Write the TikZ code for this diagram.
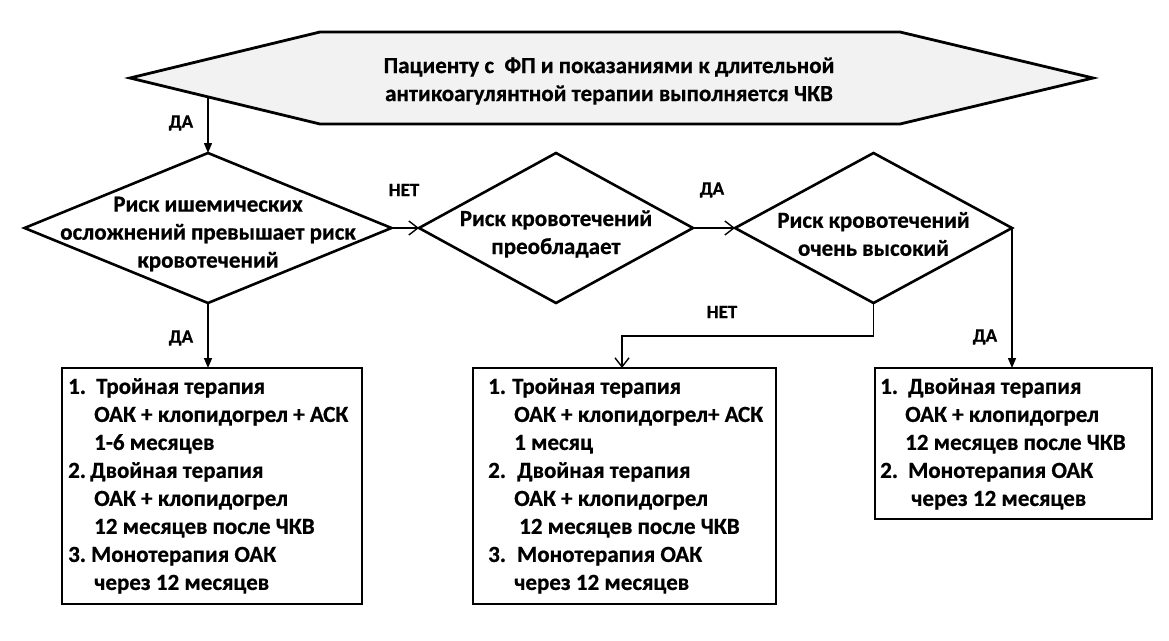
\documentclass[tikz,border=0pt]{standalone}
\usepackage{fontspec}
\setmainfont{Carlito}[BoldFeatures={FakeBold=0.7}]
\usetikzlibrary{arrows.meta,shapes.geometric,calc}
\definecolor{hexgray}{HTML}{F2F2F2}
\newcommand\mynum[2]{\makebox[#1pt][l]{#2}}
\newcommand\myind[1]{\hspace*{#1pt}}
\begin{document}
\begin{tikzpicture}[x=1pt,y=-1pt,
  txt/.style={font=\bfseries\fontsize{23}{28}\selectfont, inner sep=0pt, align=center},
  btxt/.style={font=\bfseries\fontsize{23}{28}\selectfont, inner sep=0pt, align=left, anchor=north west},
  lbl/.style={font=\bfseries\fontsize{19}{22}\selectfont, inner sep=0pt},
  dia/.style={draw, diamond, line width=2.6pt, inner sep=0pt, outer sep=0pt, minimum height=150pt},
  boxs/.style={draw, rectangle, line width=1.4pt, inner sep=0pt, outer sep=0pt, anchor=north west},
  conn/.style={line width=1.4pt},
  fa/.style={-{Triangle[length=10pt,width=8pt]}},
  oa/.style={-{Straight Barb[length=9pt,width=14pt]}}
]
\useasboundingbox (0,0) rectangle (1169,640);
% top hexagon
\draw[line width=2.8pt, fill=hexgray] (130,78) -- (320,32) -- (900,32) -- (1093,78) -- (900,124) -- (320,124) -- cycle;
\node[txt] (title) at (609,81) {Пациенту с~ ФП и показаниями к длительной\\антикоагулянтной терапии выполняется ЧКВ};
\coordinate (hs) at (208,97);
% diamonds
\node[dia, minimum width=367pt] (d1) at (208,228) {};
\node[txt] (d1t) at (208,234) {Риск ишемических\\осложнений превышает риск\\кровотечений};
\node[dia, minimum width=274pt] (d2) at (556,228) {};
\node[txt] (d2t) at (556,234) {Риск кровотечений\\преобладает};
\node[dia, minimum width=277pt] (d3) at (873.5,228) {};
\node[txt] (d3t) at (873.5,234) {Риск кровотечений\\очень высокий};
% boxes
\node[boxs, minimum width=300pt, minimum height=236pt] (b1) at (62,368) {};
\node[boxs, minimum width=303pt, minimum height=236pt] (b2) at (473,368) {};
\node[boxs, minimum width=277pt, minimum height=151pt] (b3) at (875,368) {};
\node[btxt] (b1t) at (68,378) {\mynum{28}{1.}Тройная терапия\\
\myind{26}ОАК + клопидогрел + АСК\\
\myind{26}1-6 месяцев\\
\mynum{22}{2.}Двойная терапия\\
\myind{26}ОАК + клопидогрел\\
\myind{26}12 месяцев после ЧКВ\\
\mynum{23}{3.}Монотерапия ОАК\\
\myind{26}через 12 месяцев};
\node[btxt] (b2t) at (488,378) {\mynum{24}{1.}Тройная терапия\\
\myind{26}ОАК + клопидогрел+ АСК\\
\myind{26}1 месяц\\
\mynum{29}{2.}Двойная терапия\\
\myind{26}ОАК + клопидогрел\\
\myind{31}12 месяцев после ЧКВ\\
\mynum{29}{3.}Монотерапия ОАК\\
\myind{26}через 12 месяцев};
\node[btxt] (b3t) at (880,378) {\mynum{28}{1.}Двойная терапия\\
\myind{25}ОАК + клопидогрел\\
\myind{25}12 месяцев после ЧКВ\\
\mynum{28}{2.}Монотерапия ОАК\\
\myind{31}через 12 месяцев};
% connectors
\draw[conn, fa] (hs) -- (d1.north);
\draw[conn, oa] (d1.east) -- (d2.west);
\draw[conn, oa] (d2.east) -- (d3.west);
\draw[conn, fa] (d1.south) -- (d1.south |- b1.north);
\draw[conn, oa] (d3.south) -- ++(0,33) -| ($(b2.north)+(-2.5,0)$);
\draw[conn, fa] (d3.east) -- (d3.east |- b3.north);
% labels
\node[lbl] (l1) at (181,123) {ДА};
\node[lbl] (l2) at (404,190) {НЕТ};
\node[lbl] (l3) at (712,190) {ДА};
\node[lbl] (l4) at (181,338) {ДА};
\node[lbl] (l5) at (722,312) {НЕТ};
\node[lbl] (l6) at (985,337) {ДА};
\end{tikzpicture}
\end{document}
